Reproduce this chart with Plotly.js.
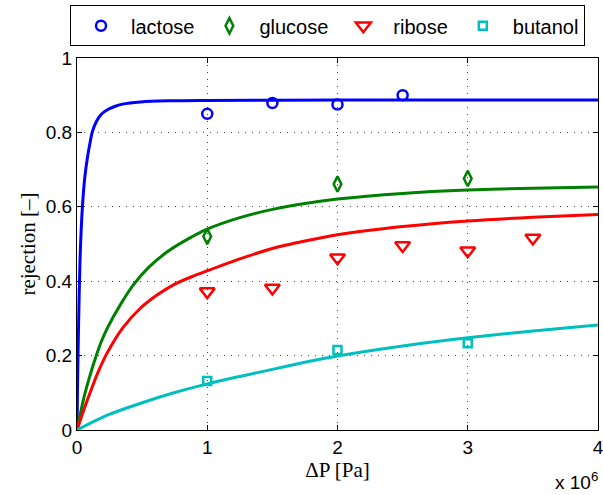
<!DOCTYPE html>
<html>
<head>
<meta charset="utf-8">
<script src="https://cdn.plot.ly/plotly-3.0.1.min.js"></script>
<style>html,body{margin:0;padding:0;background:#fff;}#chart{width:603px;height:495px;}</style>
</head>
<body>
<div id="chart"></div>
<script>
// Measured data points (x in Pa)
const lactoseX = [1.0e6, 1.5e6, 2.0e6, 2.5e6];
const lactoseY = [0.850, 0.879, 0.875, 0.900];
const glucoseX = [1.0e6, 2.0e6, 3.0e6];
const glucoseY = [0.520, 0.661, 0.676];
const riboseX = [1.0e6, 1.5e6, 2.0e6, 2.5e6, 3.0e6, 3.5e6];
const riboseY = [0.372, 0.382, 0.463, 0.496, 0.482, 0.516];
const butanolX = [1.0e6, 2.0e6, 3.0e6];
const butanolY = [0.132, 0.215, 0.233];

// Model curves (x in Pa)
const lactoseFitX = [0, 0.005e6, 0.012e6, 0.023e6, 0.041e6, 0.06e6, 0.079e6, 0.1e6, 0.118e6, 0.15e6, 0.182e6, 0.23e6, 0.284e6, 0.35e6, 0.489e6, 0.7e6, 1.0e6, 2.0e6, 3.0e6, 4.0e6];
const lactoseFitY = [0, 0.14, 0.28, 0.454, 0.597, 0.68, 0.730, 0.772, 0.802, 0.830, 0.847, 0.860, 0.869, 0.876, 0.882, 0.885, 0.886, 0.887, 0.887, 0.887];
const glucoseFitX = [0, 0.03e6, 0.06e6, 0.095e6, 0.13e6, 0.18e6, 0.233e6, 0.33e6, 0.437e6, 0.55e6, 0.693e6, 0.85e6, 1.0e6, 1.25e6, 1.5e6, 1.75e6, 2.0e6, 2.5e6, 3.0e6, 3.5e6, 4.0e6];
const glucoseFitY = [0, 0.051, 0.097, 0.141, 0.181, 0.232, 0.274, 0.335, 0.392, 0.437, 0.479, 0.513, 0.540, 0.571, 0.593, 0.609, 0.621, 0.636, 0.645, 0.650, 0.653];
const riboseFitX = [0, 0.05e6, 0.1e6, 0.165e6, 0.233e6, 0.35e6, 0.489e6, 0.62e6, 0.744e6, 0.88e6, 1.0e6, 1.25e6, 1.5e6, 1.75e6, 2.0e6, 2.5e6, 3.0e6, 3.5e6, 4.0e6];
const riboseFitY = [0, 0.052, 0.100, 0.158, 0.208, 0.274, 0.328, 0.364, 0.391, 0.412, 0.428, 0.460, 0.488, 0.508, 0.525, 0.547, 0.562, 0.572, 0.579];
const butanolFitX = [0, 0.1e6, 0.233e6, 0.489e6, 0.744e6, 1.0e6, 1.25e6, 1.5e6, 1.75e6, 2.0e6, 2.5e6, 3.0e6, 3.5e6, 4.0e6];
const butanolFitY = [0, 0.018, 0.040, 0.072, 0.100, 0.124, 0.144, 0.163, 0.182, 0.199, 0.226, 0.248, 0.266, 0.282];

const xTickVals = [0, 1e6, 2e6, 3e6, 4e6];
const xTickText = ['0', '1', '2', '3', '4'];

const cBlue = '#0000ff', cGreen = '#008000', cRed = '#ff0000', cCyan = '#00bfbf';

function fit(x, y, c) {
  return {x: x, y: y, mode: 'lines', type: 'scatter', showlegend: false, hoverinfo: 'skip',
    line: {color: c, width: 3, shape: 'spline', smoothing: 0.8}};
}
function pts(x, y, c, name, sym, size) {
  return {x: x, y: y, mode: 'markers', type: 'scatter', name: name,
    marker: {symbol: sym, size: size, color: c, line: {color: c, width: 2.5}}};
}

const data = [
  fit(lactoseFitX, lactoseFitY, cBlue),
  fit(glucoseFitX, glucoseFitY, cGreen),
  fit(riboseFitX, riboseFitY, cRed),
  fit(butanolFitX, butanolFitY, cCyan),
  pts(lactoseX, lactoseY, cBlue, 'lactose', 'circle-open', 10),
  pts(glucoseX, glucoseY, cGreen, 'glucose', 'diamond-tall-open', 11),
  pts(riboseX, riboseY, cRed, 'ribose', 'triangle-down-open', 13),
  pts(butanolX, butanolY, cCyan, 'butanol', 'square-open', 8)
];

const axisCommon = {
  showline: true, linecolor: '#000', linewidth: 1, mirror: 'ticks',
  ticks: 'inside', ticklen: 5, tickcolor: '#000', tickwidth: 1,
  showgrid: true, gridcolor: '#444', griddash: '1px,6px', gridwidth: 1,
  zeroline: false, ticklabeloverflow: 'allow',
  tickfont: {family: 'Liberation Sans, Arial, sans-serif', size: 19, color: '#000'}
};

const layout = {
  width: 603, height: 495,
  margin: {l: 77, r: 5, t: 56, b: 65},
  paper_bgcolor: '#fff', plot_bgcolor: '#fff',
  xaxis: Object.assign({}, axisCommon, {
    range: [0, 4e6], tickvals: xTickVals, ticktext: xTickText,
    title: {text: 'ΔP [Pa]', standoff: 1, font: {family: 'Liberation Serif, Times New Roman, serif', size: 21, color: '#000'}}
  }),
  yaxis: Object.assign({}, axisCommon, {
    range: [0, 1], dtick: 0.2, tick0: 0,
    title: {text: 'rejection [–]', standoff: 4, font: {family: 'Liberation Serif, Times New Roman, serif', size: 21, color: '#000'}}
  }),
  showlegend: true,
  legend: {
    orientation: 'h', x: -0.0134, y: 1.1417, xanchor: 'left', yanchor: 'top',
    bordercolor: '#000', borderwidth: 1, bgcolor: '#fff', itemwidth: 50,
    font: {family: 'Liberation Sans, Arial, sans-serif', size: 20, color: '#000'}
  },
  annotations: [{
    xref: 'paper', yref: 'paper', x: 1.004, y: -0.137, xanchor: 'right', yanchor: 'middle',
    text: 'x 10<sup>6</sup>', showarrow: false,
    font: {family: 'Liberation Sans, Arial, sans-serif', size: 19, color: '#000'}
  }]
};

Plotly.newPlot('chart', data, layout, {displayModeBar: false, staticPlot: true});
</script>
</body>
</html>
